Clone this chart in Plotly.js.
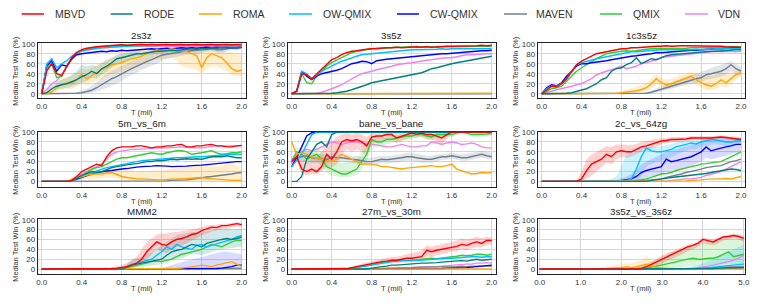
<!DOCTYPE html>
<html><head><meta charset="utf-8">
<script src="https://cdn.plot.ly/plotly-3.0.1.min.js"></script>
<style>html,body{margin:0;padding:0;background:#fff}#chart{width:761px;height:307px}</style>
</head><body><div id="chart"></div>
<script>
const METHODS = ['MBVD','RODE','ROMA','OW-QMIX','CW-QMIX','MAVEN','QMIX','VDN'];
const COLORS = ['#ff0000','#008080','#ffa500','#00bfff','#0000ff','#708090','#32cd32','#ee82ee'];
const BAND_COLORS = ['rgba(255,0,0,0.18)','rgba(0,128,128,0.18)','rgba(255,165,0,0.2)','rgba(0,191,255,0.2)','rgba(0,0,255,0.14)','rgba(112,128,144,0.2)','rgba(50,205,50,0.18)','rgba(238,130,238,0.2)'];
const MAP_NAMES = ['2s3z','3s5z','1c3s5z','5m_vs_6m','bane_vs_bane','2c_vs_64zg','MMM2','27m_vs_30m','3s5z_vs_3s6z'];
const T2 = [0,0.05,0.1,0.15,0.2,0.25,0.3,0.35,0.4,0.45,0.5,0.55,0.6,0.65,0.7,0.75,0.8,0.85,0.9,0.95,1.0,1.05,1.1,1.15,1.2,1.25,1.3,1.35,1.4,1.45,1.5,1.55,1.6,1.65,1.7,1.75,1.8,1.85,1.9,1.95,2.0];
const T5 = [0,0.125,0.25,0.375,0.5,0.625,0.75,0.875,1,1.125,1.25,1.375,1.5,1.625,1.75,1.875,2,2.125,2.25,2.375,2.5,2.625,2.75,2.875,3,3.125,3.25,3.375,3.5,3.625,3.75,3.875,4,4.125,4.25,4.375,4.5,4.625,4.75,4.875,5];

// ---- 2s3z ----
const s2s3z_MBVD = [0,45,60,40,36,55,72,83,88,91, 93,94,95,96,97,97,98,97,98,98, 99,98,99,98,99,99,98,99,99,98, 99,99,98,99,99,98,99,99,98,99, 99];
const s2s3z_RODE = [0,2,10,15,18,20,24,28,34,38, 45,40,50,55,62,70,72,75,78,80, 80,82,84,85,85,86,87,86,88,89, 90,89,91,90,92,91,93,92,93,92, 93];
const s2s3z_ROMA = [0,0,3,12,18,22,20,28,38,30, 36,42,48,52,58,60,62,66,70,72, 75,80,84,88,85,88,90,88,86,84, 80,76,52,72,80,76,72,62,50,45, 47];
const s2s3z_OW = [0,60,70,52,60,66,75,82,86,88, 90,91,92,93,93,94,95,95,96,96, 96,97,96,97,97,97,98,97,97,98, 97,98,97,98,97,98,97,98,97,98, 97];
const s2s3z_CW = [0,55,66,45,58,55,70,78,80,81, 82,84,85,84,86,85,87,86,87,88, 88,89,90,89,90,91,90,91,92,91, 92,91,92,93,92,93,92,93,92,93, 93];
const s2s3z_MAVEN = [0,0,0,0,0,0,0,1,2,4, 7,12,18,24,30,34,40,45,50,55, 60,64,68,72,77,79,80,82,84,85, 85,86,88,89,90,88,88,90,92,91, 93];
const s2s3z_QMIX = [0,50,60,32,35,55,68,80,86,89, 91,93,94,95,96,96,97,97,97,98, 97,98,98,97,98,98,98,97,98,98, 98,97,98,98,97,98,98,97,98,98, 98];
const s2s3z_VDN = [0,8,20,26,38,55,70,80,85,87, 89,90,92,92,93,94,94,95,95,95, 95,96,95,96,96,95,96,96,95,96, 95,96,95,95,94,94,93,93,92,93, 92];

// ---- 3s5z ----
const s3s5z_MBVD = [0,5,40,38,30,40,50,60,68,72, 78,82,85,86,88,89,90,91,92,92, 92,93,92,93,93,94,93,94,93,94, 94,95,95,95,96,95,96,96,97,96, 97];
const s3s5z_RODE = [0,0,0,0,0,0,0,0,1,2, 3,5,8,11,14,18,22,24,27,28, 30,33,35,36,38,40,42,46,50,52, 55,57,60,62,64,66,68,70,72,73, 75];
const s3s5z_ROMA = [0,0,0,0,0,0,0,0,0,0, 0,0,0,0,0,0,0,0,0,0, 0,0,0,0,0,0,0,0,1,0, 0,0,0,0,0,0,0,0,0,1, 1];
const s3s5z_OW = [0,5,45,40,30,38,45,50,55,60, 65,68,72,75,78,79,80,82,82,84, 85,86,86,87,88,88,88,89,88,89, 90,89,90,90,90,91,90,91,90,91, 90];
const s3s5z_CW = [0,5,45,35,28,35,40,42,45,47, 50,55,60,62,65,64,60,66,68,69, 70,71,72,73,75,76,77,78,78,79, 80,80,81,82,83,84,84,85,86,86, 87];
const s3s5z_MAVEN = [0,0,0,0,0,0,0,0,0,0, 0,0,0,0,0,0,0,0,0,0, 0,0,0,0,0,0,0,0,0,0, 0,0,0,0,0,0,0,0,0,0, 0];
const s3s5z_QMIX = [0,5,40,22,20,35,45,55,62,67, 72,78,82,85,87,88,90,90,91,92, 92,93,93,94,94,93,94,94,94,93, 94,94,95,94,94,95,94,95,95,95, 95];
const s3s5z_VDN = [0,0,0,0,0,1,3,6,10,14, 18,24,30,35,40,42,45,48,50,52, 55,58,60,61,62,64,66,67,68,70, 71,72,72,74,76,78,78,79,80,80, 80];

// ---- 1c3s5z ----
const s1c3s5z_MBVD = [0,8,15,14,20,30,45,58,65,70, 75,80,82,84,85,88,90,90,92,92, 93,94,95,95,95,96,95,96,96,96, 96,95,96,96,95,95,95,94,94,93, 93];
const s1c3s5z_RODE = [0,0,0,0,0,1,2,5,8,10, 15,20,28,32,45,50,52,58,62,72, 60,65,70,68,72,76,78,79,80,81, 82,83,84,84,85,85,86,86,87,88, 88];
const s1c3s5z_ROMA = [0,0,0,0,0,0,0,0,0,0, 0,0,0,0,0,1,2,3,4,6, 8,12,20,30,22,18,20,24,28,32, 35,28,22,18,15,20,28,22,30,38, 42];
const s1c3s5z_OW = [0,10,15,15,20,30,45,58,62,65, 68,70,72,74,75,78,80,82,84,84, 85,86,87,88,88,88,88,87,88,88, 88,89,88,89,90,90,90,91,90,90, 90];
const s1c3s5z_CW = [0,12,18,16,22,35,45,55,60,60, 62,63,64,66,68,70,72,74,75,76, 78,79,80,82,82,83,84,85,85,86, 87,87,88,88,89,90,90,91,91,92, 92];
const s1c3s5z_MAVEN = [0,0,0,0,0,0,0,0,0,0, 0,0,0,0,0,0,0,0,0,0, 0,1,3,6,10,12,15,18,22,25, 28,30,32,38,40,42,45,50,58,50, 45];
const s1c3s5z_QMIX = [0,5,10,12,15,25,35,45,52,58, 65,70,75,80,82,84,85,86,85,86, 88,89,90,90,90,91,90,91,90,91, 92,92,92,93,92,93,92,93,94,94, 94];
const s1c3s5z_VDN = [0,2,5,8,10,12,15,18,20,25, 30,38,42,45,48,52,55,50,52,55, 60,62,65,68,72,74,75,76,78,79, 80,81,82,83,84,85,84,85,85,84, 85];

// ---- 5m_vs_6m ----
const s5m_MBVD = [0,0,0,0,0,0,2,10,20,25, 30,35,32,50,62,68,70,70,70,72, 72,70,68,70,70,72,72,74,75,70, 70,72,72,74,75,72,72,70,70,72, 73];
const s5m_RODE = [0,0,0,0,0,0,2,6,12,16, 20,18,20,24,28,30,32,34,35,36, 38,40,40,42,42,44,45,44,45,46, 45,46,45,48,50,50,50,52,50,48, 48];
const s5m_ROMA = [0,0,0,0,0,0,4,8,10,12, 15,15,15,17,18,14,10,8,6,5, 5,4,4,3,3,4,4,5,5,6, 6,7,8,6,5,4,3,2,2,2, 2];
const s5m_OW = [0,0,0,0,0,0,2,6,10,14, 18,22,25,28,30,32,35,36,38,40, 42,43,44,45,45,46,47,48,48,49, 50,50,50,51,52,52,53,54,55,55, 55];
const s5m_CW = [0,0,0,0,0,0,2,4,8,12, 15,18,20,21,22,24,25,26,28,29, 30,30,31,32,32,31,30,30,30,31, 32,32,33,34,35,36,37,38,40,40, 40];
const s5m_MAVEN = [0,0,0,0,0,0,0,0,0,0, 0,0,0,0,0,0,0,0,0,0, 0,0,0,0,1,1,2,2,3,3, 4,6,8,9,10,11,12,14,15,17, 18];
const s5m_QMIX = [0,0,0,0,0,0,2,6,10,18, 25,28,30,35,40,45,48,48,50,52, 55,56,58,56,55,58,60,62,62,60, 55,56,58,60,62,58,55,56,58,58, 60];
const s5m_VDN = [0,0,0,0,0,0,2,8,15,20, 25,30,35,45,55,60,62,64,65,65, 65,66,67,68,68,68,69,70,70,69, 68,68,68,70,71,72,72,71,72,72, 72];

// ---- bane_vs_bane ----
const sbane_MBVD = [40,50,25,20,25,20,30,55,45,60, 80,85,82,85,80,72,90,92,92,95, 95,88,92,95,98,96,98,95,95,92, 88,95,100,100,100,100,100,100,100,100, 100];
const sbane_RODE = [0,0,10,45,60,75,80,70,95,100, 100,100,100,100,100,100,100,100,100,100, 100,100,100,100,100,100,100,100,100,100, 100,100,100,100,100,100,100,100,100,100, 100];
const sbane_ROMA = [80,55,58,55,50,48,45,42,40,45, 55,50,45,40,35,35,35,33,30,30, 28,26,25,27,28,30,30,32,32,30, 30,32,35,25,22,18,15,16,18,17, 18];
const sbane_OW = [30,42,55,75,95,100,100,100,100,100, 100,100,100,100,100,100,100,100,100,100, 100,100,100,100,100,100,100,100,100,100, 100,100,100,100,100,100,100,100,100,100, 100];
const sbane_CW = [30,48,70,92,99,100,100,100,100,100, 100,100,100,100,100,100,100,100,100,100, 100,100,100,100,100,100,100,100,100,100, 100,100,100,100,100,100,100,100,100,100, 100];
const sbane_MAVEN = [45,48,50,52,48,47,45,44,50,48, 48,46,45,44,42,40,40,42,45,44, 45,46,48,50,50,48,46,45,45,48, 50,50,52,50,48,48,50,52,55,52, 50];
const sbane_QMIX = [40,60,55,45,50,55,45,30,25,20, 15,15,20,25,40,55,85,80,80,85, 85,88,90,92,92,95,95,92,90,95, 95,95,95,98,100,98,95,95,95,96, 97];
const sbane_VDN = [35,55,60,65,62,65,70,75,80,78, 75,78,80,80,78,76,75,74,72,70, 70,72,75,72,70,70,72,72,80,78, 75,78,80,78,75,76,78,75,70,68, 68];

// ---- 2c_vs_64zg ----
const s2c_MBVD = [0,0,0,0,0,0,0,0,5,22, 35,40,45,55,50,60,62,60,60,65, 70,72,75,78,82,83,85,85,85,86, 88,88,88,87,88,89,90,89,88,87, 85];
const s2c_RODE = [0,0,0,0,0,0,0,0,0,0, 0,0,0,0,0,0,0,0,0,0, 0,0,2,3,5,6,8,9,10,11, 12,14,15,16,18,20,22,24,25,24, 22];
const s2c_ROMA = [0,0,0,0,0,0,0,0,0,0, 0,0,0,0,0,0,0,0,0,0, 0,0,0,0,0,0,0,0,0,1, 2,2,3,4,5,5,5,6,5,7, 10];
const s2c_OW = [0,0,0,0,0,0,0,0,0,0, 0,0,0,0,1,1,2,2,5,25, 50,68,62,60,60,62,65,70,72,75, 78,76,80,82,85,84,82,80,80,82, 82];
const s2c_CW = [0,0,0,0,0,0,0,0,0,0, 0,0,0,0,0,1,2,3,5,10, 18,22,25,28,30,45,40,42,45,48, 50,55,60,70,62,65,68,70,72,75, 75];
const s2c_MAVEN = [0,0,0,0,0,0,0,0,0,0, 0,0,0,0,0,0,0,0,0,0, 2,2,3,4,5,8,10,12,15,18, 20,22,25,28,30,31,32,36,40,42, 45];
const s2c_QMIX = [0,0,0,0,0,0,0,0,0,0, 0,0,0,0,0,0,0,0,0,2, 3,5,8,12,15,16,18,22,25,28, 30,32,35,36,38,39,40,45,50,55, 60];
const s2c_VDN = [0,0,0,0,0,0,0,0,0,0, 0,0,0,0,0,0,0,0,0,0, 0,0,0,0,0,0,2,3,5,5, 5,6,8,12,15,18,20,25,30,35, 40];

// ---- MMM2 ----
const sMMM2_MBVD = [0,0,0,0,0,0,0,0,0,0, 0,0,0,0,1,2,3,5,8,12, 20,35,45,55,50,48,55,60,62,65, 70,72,78,82,85,84,88,88,90,92, 90];
const sMMM2_RODE = [0,0,0,0,0,0,0,0,0,0, 0,0,0,0,0,0,0,4,8,10, 12,14,15,18,20,28,35,38,40,45, 50,48,45,52,55,58,60,62,60,62, 65];
const sMMM2_ROMA = [0,0,0,0,0,0,0,0,0,0, 0,0,0,0,0,0,0,0,0,0, 0,0,0,0,0,0,0,1,2,3, 5,6,8,6,5,8,10,12,15,10, 5];
const sMMM2_OW = [0,0,0,0,0,0,0,0,0,0, 0,0,0,0,0,0,0,5,10,12, 15,18,20,28,35,45,40,50,45,42, 40,48,50,45,48,52,55,58,60,65, 68];
const sMMM2_CW = [0,0,0,0,0,0,0,0,0,0, 0,0,0,0,0,0,0,0,0,0, 0,0,0,0,0,0,0,0,0,0, 0,0,0,0,0,1,2,3,5,8, 8];
const sMMM2_MAVEN = [0,0,0,0,0,0,0,0,0,0, 0,0,0,0,0,0,0,0,0,0, 0,0,0,0,0,0,0,0,0,0, 0,0,0,0,1,1,1,1,1,1, 1];
const sMMM2_QMIX = [0,0,0,0,0,0,0,0,0,0, 0,0,0,0,0,0,0,3,5,8, 10,12,15,16,15,18,20,25,30,32, 35,38,40,45,50,48,45,50,55,58, 58];
const sMMM2_VDN = [0,0,0,0,0,0,0,0,0,0, 0,0,0,0,0,0,0,0,0,0, 0,0,0,0,0,0,0,0,0,1, 1,1,1,1,1,1,1,1,1,1, 1];

// ---- 27m_vs_30m ----
const s27m_MBVD = [0,0,0,0,0,0,0,0,0,0, 0,1,3,5,8,10,12,13,15,16, 18,18,20,22,22,24,25,38,35,38, 40,42,45,46,50,48,52,55,52,58, 58];
const s27m_RODE = [0,0,0,0,0,0,0,0,0,0, 0,0,0,0,0,0,2,4,5,6, 8,8,9,10,10,11,12,12,12,13, 14,15,15,16,17,16,18,20,18,19, 20];
const s27m_ROMA = [0,0,0,0,0,0,0,0,0,0, 0,0,0,0,0,0,0,0,0,0, 0,0,0,0,0,0,0,0,0,0, 0,0,0,0,0,0,0,0,0,0, 0];
const s27m_OW = [0,0,0,0,0,0,0,0,0,0, 0,0,2,3,5,6,8,10,12,14, 15,16,17,18,18,17,18,19,20,20, 21,22,22,23,24,24,25,25,24,25, 25];
const s27m_CW = [0,0,0,0,0,0,0,0,0,0, 0,0,0,0,0,0,0,0,0,0, 0,0,0,0,0,0,0,0,0,1, 1,2,2,3,3,3,4,5,6,8, 8];
const s27m_MAVEN = [0,0,0,0,0,0,0,0,0,0, 0,0,0,0,0,0,0,1,1,2, 2,2,3,3,3,4,4,4,5,5, 5,4,5,5,6,5,6,6,5,5, 6];
const s27m_QMIX = [0,0,0,0,0,0,0,0,0,0, 0,0,2,4,6,8,9,12,14,15, 15,16,18,17,18,19,20,20,22,21, 22,24,25,26,28,27,28,30,30,28, 30];
const s27m_VDN = [0,0,0,0,0,0,0,0,0,0, 0,0,0,0,0,0,0,0,0,0, 0,1,2,2,3,3,4,4,5,5, 6,7,8,8,9,10,10,12,12,13, 12];

// ---- 3s5z_vs_3s6z (T5 grid) ----
const s3s6z_MBVD = [0,0,0,0,0,0,0,0,0,0, 0,0,0,0,0,0,0,0,0,0, 2,5,10,15,20,25,30,35,40,45, 48,52,60,58,55,60,65,66,68,66, 62];
const s3s6z_RODE = [0,0,0,0,0,0,0,0,0,0, 0,0,0,0,0,0,0,0,0,0, 0,0,0,0,0,0,0,0,0,0, 0,0,1,1,1,2,2,2,3,3, 3];
const s3s6z_ROMA = [0,0,0,0,0,0,0,0,0,0, 0,0,1,1,2,2,3,5,3,5, 8,10,5,3,2,1,1,0,0,0, 0,0,0,0,0,0,0,0,0,0, 0];
const s3s6z_OW = [0,0,0,0,0,0,0,0,0,0, 0,0,0,0,0,0,0,0,0,0, 0,0,0,0,0,0,0,0,0,0, 0,1,2,3,4,4,5,6,8,9, 10];
const s3s6z_CW = [0,0,0,0,0,0,0,0,0,0, 0,0,0,0,0,0,0,0,0,0, 0,0,0,0,0,0,0,0,0,0, 0,0,0,0,1,1,1,2,2,2, 3];
const s3s6z_MAVEN = [0,0,0,0,0,0,0,0,0,0, 0,0,0,0,0,0,0,0,0,0, 0,0,0,0,0,0,0,0,0,0, 1,1,2,2,3,3,4,4,5,5, 5];
const s3s6z_QMIX = [0,0,0,0,0,0,0,0,0,0, 0,0,0,0,0,0,0,0,0,0, 0,2,4,6,8,10,12,15,18,20, 22,20,20,22,22,25,30,35,25,28, 30];
const s3s6z_VDN = [0,0,0,0,0,0,0,0,0,0, 0,0,0,0,0,0,0,0,0,0, 0,0,0,0,0,0,0,0,1,1, 2,3,4,6,8,10,12,15,18,22, 28];

// ---- shaded spread bands (lower / upper) ----
const b2s3z_ROMA_lo = [0,0,0,4,8,10,10,14,20,18, 22,26,30,35,40,42,45,48,52,55, 58,62,66,70,68,70,72,66,55,52, 50,48,40,50,55,55,50,45,38,35, 35];
const b2s3z_ROMA_hi = [0,2,8,22,30,32,35,42,50,48, 52,58,62,66,72,76,80,84,86,88, 90,92,94,96,95,96,96,95,94,93, 92,90,88,88,90,90,88,85,82,80, 78];
const b2s3z_MAVEN_lo = [0,0,0,0,0,0,0,0,0,1, 2,4,8,12,16,20,26,32,38,42, 48,52,56,60,66,70,72,74,76,78, 78,80,82,84,85,82,82,85,88,87, 90];
const b2s3z_MAVEN_hi = [0,0,0,0,0,0,1,3,6,10, 16,24,32,40,46,50,56,60,65,70, 74,78,80,84,86,88,88,90,91,92, 92,93,94,94,95,94,94,95,96,96, 96];
const b2s3z_RODE_lo = [0,0,4,8,10,12,14,18,22,25, 32,30,38,44,52,60,64,68,72,75, 76,78,80,81,81,82,83,82,84,85, 86,85,87,86,88,87,90,88,90,88, 90];
const b2s3z_RODE_hi = [0,5,18,25,28,32,38,45,58,55, 58,55,62,68,72,78,80,82,84,85, 84,86,88,89,89,90,91,90,92,93, 94,93,95,94,96,95,96,96,96,96, 96];
const b1c3s5z_ROMA_lo = [0,0,0,0,0,0,0,0,0,0, 0,0,0,0,0,0,0,0,1,2, 3,5,10,20,14,10,12,15,18,20, 24,18,12,8,6,10,16,12,18,28, 34];
const b1c3s5z_ROMA_hi = [0,0,0,0,0,0,0,0,0,0, 0,0,0,0,0,2,5,8,10,14, 18,22,30,38,32,28,30,34,38,42, 45,40,38,36,35,38,42,40,42,46, 48];
const b1c3s5z_MAVEN_lo = [0,0,0,0,0,0,0,0,0,0, 0,0,0,0,0,0,0,0,0,0, 0,0,1,2,5,7,9,12,15,18, 20,22,24,28,30,32,34,38,45,40, 36];
const b1c3s5z_MAVEN_hi = [0,0,0,0,0,0,0,0,0,0, 0,0,0,0,0,0,0,0,0,0, 1,3,6,10,15,18,22,26,30,34, 38,40,44,48,52,55,58,62,65,60, 55];
const b5m_ROMA_lo = [0,0,0,0,0,0,1,3,4,5, 6,6,6,8,8,6,4,3,2,1, 1,1,0,0,0,0,0,0,0,0, 0,0,0,0,0,0,0,0,0,0, 0];
const b5m_ROMA_hi = [0,0,0,0,0,0,8,14,18,20, 24,25,25,28,30,28,24,22,22,20, 22,20,22,22,22,24,25,26,28,30, 30,32,34,34,32,30,32,35,35,33, 30];
const bbane_MBVD_lo = [35,40,15,12,15,15,20,30,28,35, 55,65,60,65,60,50,75,80,82,85, 85,78,82,85,90,88,90,85,85,80, 75,85,98,98,98,98,98,98,98,98, 98];
const bbane_MBVD_hi = [45,60,45,40,45,50,60,80,80,90, 95,98,95,98,95,90,98,98,98,100, 100,98,100,100,100,100,100,100,100,100, 98,100,100,100,100,100,100,100,100,100, 100];
const bbane_QMIX_lo = [35,50,45,35,38,40,32,18,12,10, 8,8,10,14,25,40,70,68,70,75, 78,80,84,86,86,90,90,86,84,90, 90,90,90,94,96,94,90,90,90,92, 93];
const bbane_QMIX_hi = [45,70,68,60,65,70,62,50,45,42, 38,38,40,45,60,75,92,90,90,92, 92,94,95,96,96,98,98,96,95,98, 98,98,98,100,100,100,98,98,98,98, 99];
const bbane_MAVEN_lo = [40,42,40,42,38,38,36,36,42,40, 40,38,38,36,34,32,32,34,38,36, 38,38,40,42,42,40,38,38,38,40, 44,44,46,44,42,42,44,46,48,46, 44];
const bbane_MAVEN_hi = [50,55,60,62,58,56,54,52,58,56, 55,54,52,52,50,48,48,50,52,52, 52,54,55,58,58,56,54,52,52,55, 56,56,58,56,55,56,58,60,62,60, 58];
const b2c_MBVD_lo = [0,0,0,0,0,0,0,0,0,5, 12,20,28,38,35,45,50,48,50,55, 60,62,66,70,75,78,80,80,80,82, 84,84,84,83,84,85,86,85,84,83, 80];
const b2c_MBVD_hi = [0,0,0,0,0,0,0,2,20,45, 55,60,65,72,70,75,75,74,74,76, 80,82,84,86,88,88,90,90,90,90, 92,92,92,91,92,92,93,92,92,91, 90];
const b2c_OW_lo = [0,0,0,0,0,0,0,0,0,0, 0,0,0,0,0,0,0,0,0,2, 10,30,35,40,42,45,50,55,58,62, 65,65,70,72,75,76,74,72,72,74, 75];
const b2c_OW_hi = [0,0,0,0,0,0,0,0,0,0, 0,0,1,2,5,10,30,55,62,65, 68,72,70,70,72,74,76,80,82,84, 85,84,86,88,90,90,88,86,86,88, 88];
const b2c_CW_lo = [0,0,0,0,0,0,0,0,0,0, 0,0,0,0,0,0,0,0,1,2, 5,8,10,12,14,20,20,22,25,28, 30,35,40,48,45,48,50,52,55,58, 60];
const b2c_CW_hi = [0,0,0,0,0,0,0,0,0,0, 0,0,0,0,1,3,6,10,15,25, 35,40,45,50,55,62,62,65,68,72, 75,78,82,85,85,86,88,88,88,88, 88];
const bMMM2_RODE_lo = [0,0,0,0,0,0,0,0,0,0, 0,0,0,0,0,0,0,0,2,4, 5,6,7,8,10,14,18,20,22,26, 30,30,28,32,35,38,40,42,42,44, 45];
const bMMM2_RODE_hi = [0,0,0,0,0,0,0,0,0,0, 0,0,0,0,0,0,2,10,18,22, 25,30,35,40,48,55,62,68,70,72, 75,75,74,76,78,80,82,82,80,80, 82];
const bMMM2_CW_lo = [0,0,0,0,0,0,0,0,0,0, 0,0,0,0,0,0,0,0,0,0, 0,0,0,0,0,0,0,0,0,0, 0,0,0,0,0,0,0,0,0,0, 0];
const bMMM2_CW_hi = [0,0,0,0,0,0,0,0,0,0, 0,0,0,0,0,0,0,0,0,0, 0,0,0,0,2,5,8,12,15,18, 20,22,25,28,30,32,35,35,34,32, 30];
const bMMM2_MBVD_lo = [0,0,0,0,0,0,0,0,0,0, 0,0,0,0,0,0,1,2,3,5, 10,20,30,40,35,32,40,45,48,52, 58,62,68,72,76,78,82,82,84,86, 85];
const bMMM2_MBVD_hi = [0,0,0,0,0,0,0,0,0,0, 0,0,0,1,3,5,8,12,18,25, 40,55,62,70,72,72,74,75,76,78, 80,82,85,88,90,90,92,92,94,95, 94];
const b27m_MBVD_lo = [0,0,0,0,0,0,0,0,0,0, 0,0,1,2,4,6,8,9,10,11, 12,12,14,15,15,16,16,25,24,28, 30,32,35,36,40,38,42,45,44,48, 50];
const b27m_MBVD_hi = [0,0,0,0,0,0,0,0,0,0, 0,2,5,8,12,14,16,18,20,22, 25,25,28,30,32,35,38,48,45,48, 50,52,55,58,62,60,62,66,62,65, 64];
const b3s6z_QMIX_lo = [0,0,0,0,0,0,0,0,0,0, 0,0,0,0,0,0,0,0,0,0, 0,0,0,0,0,1,2,3,4,5, 6,6,7,8,8,9,10,12,10,10, 12];
const b3s6z_QMIX_hi = [0,0,0,0,0,0,0,0,0,0, 0,0,0,0,0,0,0,0,2,5, 8,12,16,20,25,30,35,38,42,45, 48,50,52,55,56,58,60,62,62,62, 62];
const b3s6z_MBVD_lo = [0,0,0,0,0,0,0,0,0,0, 0,0,0,0,0,0,0,0,0,0, 0,1,4,8,12,16,20,25,30,35, 40,45,52,50,48,52,58,60,62,60, 55];
const b3s6z_MBVD_hi = [0,0,0,0,0,0,0,0,0,0, 0,0,0,0,0,0,0,0,0,2, 5,10,15,22,28,32,36,40,45,50, 52,56,64,62,60,64,68,70,72,70, 68];
const b3s6z_OW_lo = [0,0,0,0,0,0,0,0,0,0, 0,0,0,0,0,0,0,0,0,0, 0,0,0,0,0,0,0,0,0,0, 0,0,0,0,0,0,0,0,0,0, 0];
const b3s6z_OW_hi = [0,0,0,0,0,0,0,0,0,0, 0,0,0,0,0,0,0,0,0,0, 0,0,0,0,0,0,0,0,2,4, 6,8,12,16,20,25,30,35,40,45, 50];
const b3s6z_ROMA_lo = [0,0,0,0,0,0,0,0,0,0, 0,0,0,0,0,0,0,0,0,0, 0,0,0,0,0,0,0,0,0,0, 0,0,0,0,0,0,0,0,0,0, 0];
const b3s6z_ROMA_hi = [0,0,0,0,0,0,0,0,0,0, 1,2,3,5,6,8,10,12,10,15, 18,25,18,12,8,5,4,3,2,2, 1,0,0,0,0,0,0,0,0,0, 0];

const TABLE = [
  [s2s3z_MBVD,s2s3z_RODE,s2s3z_ROMA,s2s3z_OW,s2s3z_CW,s2s3z_MAVEN,s2s3z_QMIX,s2s3z_VDN],
  [s3s5z_MBVD,s3s5z_RODE,s3s5z_ROMA,s3s5z_OW,s3s5z_CW,s3s5z_MAVEN,s3s5z_QMIX,s3s5z_VDN],
  [s1c3s5z_MBVD,s1c3s5z_RODE,s1c3s5z_ROMA,s1c3s5z_OW,s1c3s5z_CW,s1c3s5z_MAVEN,s1c3s5z_QMIX,s1c3s5z_VDN],
  [s5m_MBVD,s5m_RODE,s5m_ROMA,s5m_OW,s5m_CW,s5m_MAVEN,s5m_QMIX,s5m_VDN],
  [sbane_MBVD,sbane_RODE,sbane_ROMA,sbane_OW,sbane_CW,sbane_MAVEN,sbane_QMIX,sbane_VDN],
  [s2c_MBVD,s2c_RODE,s2c_ROMA,s2c_OW,s2c_CW,s2c_MAVEN,s2c_QMIX,s2c_VDN],
  [sMMM2_MBVD,sMMM2_RODE,sMMM2_ROMA,sMMM2_OW,sMMM2_CW,sMMM2_MAVEN,sMMM2_QMIX,sMMM2_VDN],
  [s27m_MBVD,s27m_RODE,s27m_ROMA,s27m_OW,s27m_CW,s27m_MAVEN,s27m_QMIX,s27m_VDN],
  [s3s6z_MBVD,s3s6z_RODE,s3s6z_ROMA,s3s6z_OW,s3s6z_CW,s3s6z_MAVEN,s3s6z_QMIX,s3s6z_VDN]
];
// [map index, method index, lower, upper]
const BANDS = [
  [0,2,b2s3z_ROMA_lo,b2s3z_ROMA_hi],[0,5,b2s3z_MAVEN_lo,b2s3z_MAVEN_hi],[0,1,b2s3z_RODE_lo,b2s3z_RODE_hi],
  [2,2,b1c3s5z_ROMA_lo,b1c3s5z_ROMA_hi],[2,5,b1c3s5z_MAVEN_lo,b1c3s5z_MAVEN_hi],
  [3,2,b5m_ROMA_lo,b5m_ROMA_hi],
  [4,0,bbane_MBVD_lo,bbane_MBVD_hi],[4,6,bbane_QMIX_lo,bbane_QMIX_hi],[4,5,bbane_MAVEN_lo,bbane_MAVEN_hi],
  [5,0,b2c_MBVD_lo,b2c_MBVD_hi],[5,3,b2c_OW_lo,b2c_OW_hi],[5,4,b2c_CW_lo,b2c_CW_hi],
  [6,1,bMMM2_RODE_lo,bMMM2_RODE_hi],[6,4,bMMM2_CW_lo,bMMM2_CW_hi],[6,0,bMMM2_MBVD_lo,bMMM2_MBVD_hi],
  [7,0,b27m_MBVD_lo,b27m_MBVD_hi],
  [8,6,b3s6z_QMIX_lo,b3s6z_QMIX_hi],[8,0,b3s6z_MBVD_lo,b3s6z_MBVD_hi],[8,3,b3s6z_OW_lo,b3s6z_OW_hi],[8,2,b3s6z_ROMA_lo,b3s6z_ROMA_hi]
];

const W = 761, H = 307;
const FONT = 'Liberation Sans, Arial, sans-serif';
const COLS = [[37.7,245.7],[287.7,495.7],[537.7,745]];
const ROWS = [[43.3,98],[131.7,187.3],[219.3,274]];
const YRANGES = [[-8.5,100.8],[-12,100.8],[-10,100.8]];
const px = v => v / W, py = v => 1 - v / H;
const axSfx = k => (k === 0 ? '' : String(k + 1));
const xsOf = k => (k === 8 ? T5 : T2);

const traces = [];
const layout = {
  width: W, height: H, margin: {l:0,r:0,t:0,b:0},
  paper_bgcolor: '#fff', plot_bgcolor: '#fff', showlegend: false,
  font: {family: FONT, color: '#333'},
  annotations: [], shapes: []
};

BANDS.forEach(([k, m, lo, hi]) => {
  const xs = xsOf(k);
  traces.push({
    type: 'scatter', mode: 'lines', x: xs.concat(xs.slice().reverse()), y: hi.concat(lo.slice().reverse()),
    fill: 'toself', fillcolor: BAND_COLORS[m], line: {width: 0, color: 'rgba(0,0,0,0)'},
    xaxis: 'x' + axSfx(k), yaxis: 'y' + axSfx(k), hoverinfo: 'skip'
  });
});

const DRAW_ORDER = [7,6,5,4,3,2,1,0];
MAP_NAMES.forEach((name, k) => {
  const col = k % 3, row = Math.floor(k / 3);
  const sfx = axSfx(k);
  const xs = xsOf(k);
  DRAW_ORDER.forEach(m => {
    traces.push({
      type: 'scatter', mode: 'lines', x: xs, y: TABLE[k][m], name: METHODS[m],
      xaxis: 'x' + sfx, yaxis: 'y' + sfx, hoverinfo: 'skip',
      line: {color: COLORS[m], width: 1.4}
    });
  });
  const common = {showline: true, mirror: true, linecolor: '#222', linewidth: 1,
    showgrid: true, gridcolor: '#d6d6d6', gridwidth: 1, zeroline: false, ticks: '',
    tickfont: {size: 8, color: '#333', family: FONT}, fixedrange: true, layer: 'below traces'};
  layout['xaxis' + sfx] = Object.assign({}, common, {
    domain: [px(COLS[col][0]), px(COLS[col][1])], anchor: 'y' + sfx,
    range: k === 8 ? [-0.05, 5.03] : [-0.04, 2.04],
    tick0: 0, dtick: k === 8 ? 1 : 0.4, tickformat: '.1f'
  });
  layout['yaxis' + sfx] = Object.assign({}, common, {
    domain: [py(ROWS[row][1]), py(ROWS[row][0])], anchor: 'x' + sfx,
    range: YRANGES[row], tick0: 0, dtick: 20
  });
  const cx = (COLS[col][0] + COLS[col][1]) / 2;
  layout.annotations.push({text: name, xref: 'paper', yref: 'paper', x: px(cx), y: py(ROWS[row][0] - 7.8),
    xanchor: 'center', yanchor: 'middle', showarrow: false, font: {size: 9.8, color: '#222', family: FONT}});
  layout.annotations.push({text: 'Median Test Win (%)', xref: 'paper', yref: 'paper',
    x: px(COLS[col][0] - 22.5), y: py((ROWS[row][0] + ROWS[row][1]) / 2), textangle: -90,
    xanchor: 'center', yanchor: 'middle', showarrow: false, font: {size: 7.5, color: '#333', family: FONT}});
  layout.annotations.push({text: 'T (mil)', xref: 'paper', yref: 'paper', x: px(cx), y: py(ROWS[row][1] + 14.3),
    xanchor: 'center', yanchor: 'middle', showarrow: false, font: {size: 7.6, color: '#333', family: FONT}});
});

// legend drawn as shapes + text
const LEG_LINE = [[21.7,44],[110.7,132.7],[199,222],[289,312],[397,419],[504,527],[600,622],[685,708]];
const LEG_TEXT = [52.7,141.7,230.7,320.7,428,534,631,716];
METHODS.forEach((m, i) => {
  layout.shapes.push({type: 'line', xref: 'paper', yref: 'paper', x0: px(LEG_LINE[i][0]), x1: px(LEG_LINE[i][1]),
    y0: py(14), y1: py(14), line: {color: COLORS[i], width: 1.5}});
  layout.annotations.push({text: m, xref: 'paper', yref: 'paper', x: px(LEG_TEXT[i]), y: py(14),
    xanchor: 'left', yanchor: 'middle', showarrow: false, font: {size: 10.5, color: '#333', family: FONT}});
});

Plotly.newPlot('chart', traces, layout, {staticPlot: true, displayModeBar: false});
</script></body></html>
